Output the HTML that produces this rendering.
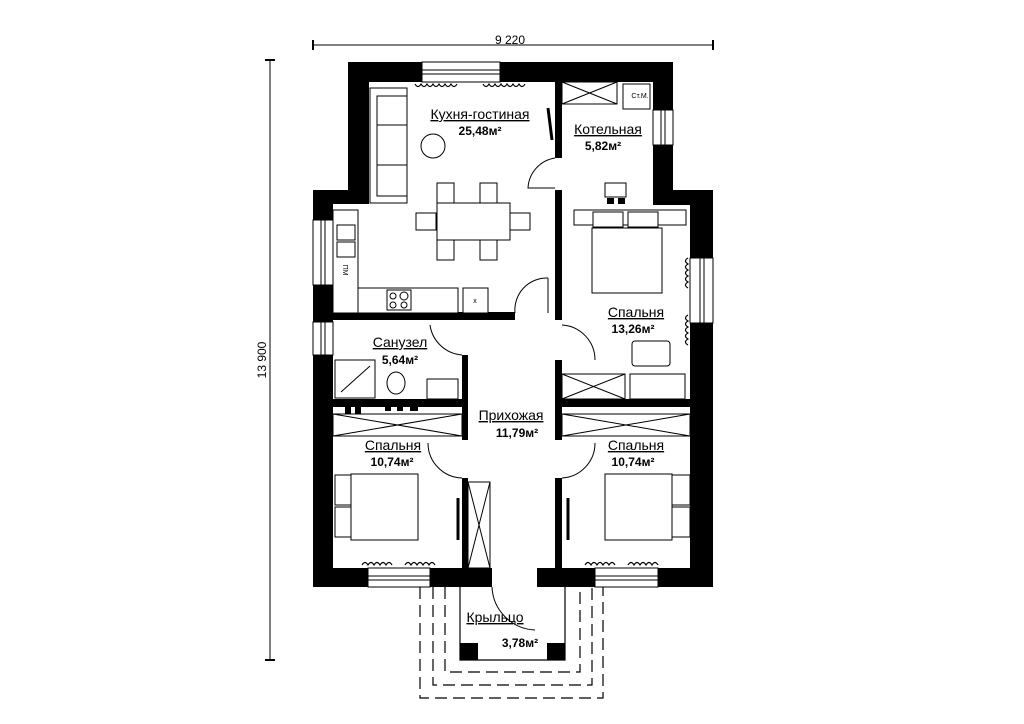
<!DOCTYPE html>
<html><head><meta charset="utf-8"><style>
html,body{margin:0;padding:0;background:#fff;width:1024px;height:724px;overflow:hidden}
svg{display:block}
text{font-family:"Liberation Sans",sans-serif;fill:#000}
</style></head><body>
<svg width="1024" height="724" viewBox="0 0 1024 724" xmlns="http://www.w3.org/2000/svg">
<g stroke="#000" stroke-width="1" fill="none">
 <line x1="313" y1="45" x2="713" y2="45"/>
 <line x1="313" y1="40" x2="313" y2="50" stroke-width="2"/>
 <line x1="713" y1="40" x2="713" y2="50" stroke-width="2"/>
 <line x1="270" y1="60" x2="270" y2="660"/>
 <line x1="265" y1="60" x2="275" y2="60" stroke-width="2"/>
 <line x1="265" y1="660" x2="275" y2="660" stroke-width="2"/>
</g>
<text x="510" y="44" font-size="12" text-anchor="middle">9 220</text>
<text x="0" y="0" font-size="12" text-anchor="middle" transform="translate(266,360) rotate(-90)">13 900</text>

<g fill="#000">
 <rect x="348" y="62" width="325" height="20"/>
 <rect x="348" y="62" width="21" height="142"/>
 <rect x="313" y="190" width="56" height="14"/>
 <rect x="313" y="190" width="20" height="397"/>
 <rect x="653" y="62" width="20" height="143"/>
 <rect x="653" y="190" width="60" height="15"/>
 <rect x="690" y="190" width="23" height="397"/>
 <rect x="313" y="568" width="179" height="19"/>
 <rect x="537" y="568" width="176" height="19"/>
 <rect x="555" y="82" width="7" height="76"/>
 <rect x="555" y="190" width="7" height="130"/>
 <rect x="555" y="360" width="7" height="80"/>
 <rect x="555" y="478" width="7" height="90"/>
 <rect x="333" y="312" width="182" height="8"/>
 <rect x="462" y="355" width="6" height="85"/>
 <rect x="462" y="478" width="6" height="90"/>
 <rect x="333" y="399" width="135" height="8"/>
 <rect x="562" y="399" width="128" height="8"/>
</g>
<g fill="#fff" stroke="#000" stroke-width="1">
 <rect x="422" y="62" width="78" height="20"/>
 <rect x="313" y="220" width="20" height="65"/>
 <rect x="313" y="322" width="20" height="33"/>
 <rect x="653" y="110" width="20" height="35"/>
 <rect x="690" y="258" width="23" height="65"/>
 <rect x="368" y="568" width="62" height="19"/>
 <rect x="595" y="568" width="63" height="19"/>
</g>
<g stroke="#000" stroke-width="1">
 <line x1="422" y1="70" x2="500" y2="70"/><line x1="422" y1="74" x2="500" y2="74"/>
 <line x1="321" y1="220" x2="321" y2="285"/><line x1="325" y1="220" x2="325" y2="285"/>
 <line x1="321" y1="322" x2="321" y2="355"/><line x1="325" y1="322" x2="325" y2="355"/>
 <line x1="661" y1="110" x2="661" y2="145"/><line x1="665" y1="110" x2="665" y2="145"/>
 <line x1="700" y1="258" x2="700" y2="323"/><line x1="704" y1="258" x2="704" y2="323"/>
 <line x1="368" y1="576" x2="430" y2="576"/><line x1="368" y1="580" x2="430" y2="580"/>
 <line x1="595" y1="576" x2="658" y2="576"/><line x1="595" y1="580" x2="658" y2="580"/>
</g>

<g stroke="#000" stroke-width="1" fill="none">
 <path d="M555 158 A32 32 0 0 0 528 188 L555 188"/>
 <path d="M548 278 A32 32 0 0 0 515 313"/><line x1="548" y1="278" x2="548" y2="313"/>
 <path d="M430 325 A35 35 0 0 0 462 355"/>
 <path d="M562 325 A35 35 0 0 1 595 360"/>
 <path d="M428 443 A35 35 0 0 0 462 478"/>
 <path d="M595 443 A35 35 0 0 1 562 478"/>
 <path d="M492 587 A45 45 0 0 0 535 630"/>
 <line x1="548" y1="108" x2="552" y2="140" stroke-width="3"/>
 <line x1="458" y1="498" x2="458" y2="540" stroke-width="3"/>
 <line x1="568" y1="498" x2="568" y2="540" stroke-width="3"/>
</g>

<g stroke="#000" stroke-width="1" fill="#fff">
 <rect x="370" y="88" width="37" height="115"/>
 <rect x="377" y="96" width="30" height="100"/>
 <line x1="377" y1="125" x2="407" y2="125"/><line x1="377" y1="165" x2="407" y2="165"/>
 <circle cx="433" cy="146" r="12"/>
 <rect x="437" y="183" width="17" height="20"/><rect x="480" y="183" width="17" height="20"/>
 <rect x="437" y="240" width="17" height="20"/><rect x="480" y="240" width="17" height="20"/>
 <rect x="416" y="213" width="20" height="17"/><rect x="510" y="213" width="20" height="17"/>
 <rect x="437" y="203" width="73" height="37"/>
 <rect x="333" y="210" width="25" height="103"/>
 <rect x="337" y="225" width="18" height="15"/><rect x="337" y="242" width="18" height="15"/>
 <rect x="358" y="288" width="100" height="25"/>
 <rect x="387" y="290" width="24" height="20"/>
 <circle cx="393" cy="296" r="3"/><circle cx="404" cy="296" r="4"/><circle cx="393" cy="305" r="3"/><circle cx="404" cy="305" r="3"/>
 <rect x="463" y="288" width="25" height="25"/>
 <rect x="562" y="82" width="55" height="22"/>
 <line x1="562" y1="82" x2="617" y2="104"/><line x1="617" y1="82" x2="562" y2="104"/>
 <rect x="623" y="84" width="27" height="25"/>
 <rect x="605" y="183" width="21" height="14"/>
 <rect x="574" y="210" width="112" height="15"/>
 <rect x="593" y="212" width="30" height="15"/><rect x="628" y="212" width="30" height="15"/>
 <rect x="592" y="228" width="70" height="65"/>
 <rect x="632" y="341" width="38" height="25" rx="3"/>
 <rect x="562" y="374" width="63" height="25"/>
 <line x1="562" y1="374" x2="625" y2="399"/><line x1="625" y1="374" x2="562" y2="399"/>
 <rect x="630" y="374" width="55" height="25"/>
 <rect x="335" y="360" width="40" height="38"/>
 <line x1="341" y1="392" x2="370" y2="366"/>
 <ellipse cx="396" cy="383" rx="9" ry="11"/>
 <rect x="427" y="379" width="31" height="20"/>
 <rect x="333" y="414" width="129" height="22"/>
 <line x1="333" y1="414" x2="462" y2="436"/><line x1="462" y1="414" x2="333" y2="436"/>
 <rect x="562" y="414" width="128" height="22"/>
 <line x1="562" y1="414" x2="690" y2="436"/><line x1="690" y1="414" x2="562" y2="436"/>
 <rect x="468" y="482" width="22" height="86"/>
 <line x1="468" y1="482" x2="490" y2="568"/><line x1="490" y1="482" x2="468" y2="568"/>
 <rect x="335" y="475" width="18" height="30"/><rect x="335" y="507" width="18" height="30"/>
 <rect x="351" y="474" width="67" height="66"/>
 <rect x="672" y="475" width="18" height="30"/><rect x="672" y="507" width="18" height="30"/>
 <rect x="605" y="474" width="67" height="66"/>
</g>
<g fill="#000">
 <rect x="345" y="407" width="6" height="7"/><rect x="355" y="407" width="6" height="7"/>
 <rect x="385" y="404" width="6" height="7"/><rect x="397" y="404" width="6" height="7"/><rect x="410" y="404" width="8" height="7"/>
 <rect x="607" y="198" width="7" height="6"/><rect x="618" y="198" width="7" height="6"/>
</g>
<text x="640" y="98" font-size="7" text-anchor="middle">Ст.М.</text>
<text x="343" y="270" font-size="7" transform="rotate(90 343 270)" text-anchor="middle">ПМ</text>
<text x="475" y="303" font-size="7" text-anchor="middle">x</text>
<g stroke="#000" stroke-width="1.2" fill="none">
 <path d="M415 84 q3 5 6 0 q3 5 6 0 q3 5 6 0 q3 5 6 0 q3 5 6 0 q3 5 6 0 q3 5 6 0"/>
 <path d="M483 84 q3 5 6 0 q3 5 6 0 q3 5 6 0 q3 5 6 0 q3 5 6 0 q3 5 6 0 q3 5 6 0"/>
 <path d="M362 565 q3 -5 6 0 q3 -5 6 0 q3 -5 6 0 q3 -5 6 0 q3 -5 6 0"/>
 <path d="M405 565 q3 -5 6 0 q3 -5 6 0 q3 -5 6 0 q3 -5 6 0 q3 -5 6 0"/>
 <path d="M585 565 q3 -5 6 0 q3 -5 6 0 q3 -5 6 0 q3 -5 6 0 q3 -5 6 0"/>
 <path d="M628 565 q3 -5 6 0 q3 -5 6 0 q3 -5 6 0 q3 -5 6 0 q3 -5 6 0"/>
 <path d="M688 258 q-5 3 0 6 q-5 3 0 6 q-5 3 0 6 q-5 3 0 6 q-5 3 0 6"/>
 <path d="M688 315 q-5 3 0 6 q-5 3 0 6 q-5 3 0 6 q-5 3 0 6 q-5 3 0 6"/>
</g>

<g stroke="#000" stroke-width="1.2" fill="none">
 <path d="M460 587 V660 H565 V587"/>
 <path d="M445 587 V672 H580 V587" stroke-dasharray="12 6"/>
 <path d="M433 587 V685 H592 V587" stroke-dasharray="12 6"/>
 <path d="M420 587 V698 H603 V587" stroke-dasharray="12 6"/>
</g>
<rect x="460" y="643" width="18" height="17" fill="#000"/>
<rect x="547" y="643" width="18" height="17" fill="#000"/>

<g font-size="14" text-anchor="middle">
 <text x="480" y="119" text-decoration="underline">Кухня-гостиная</text>
 <text x="608" y="134" text-decoration="underline">Котельная</text>
 <text x="636" y="317" text-decoration="underline">Спальня</text>
 <text x="400" y="347" text-decoration="underline">Санузел</text>
 <text x="511" y="420" text-decoration="underline">Прихожая</text>
 <text x="393" y="450" text-decoration="underline">Спальня</text>
 <text x="636" y="450" text-decoration="underline">Спальня</text>
 <text x="495" y="622" text-decoration="underline">Крыльцо</text>
</g>
<g font-size="12" font-weight="bold" text-anchor="middle">
 <text x="480" y="135">25,48м²</text>
 <text x="603" y="150">5,82м²</text>
 <text x="633" y="333">13,26м²</text>
 <text x="400" y="364">5,64м²</text>
 <text x="517" y="437">11,79м²</text>
 <text x="392" y="466">10,74м²</text>
 <text x="633" y="466">10,74м²</text>
 <text x="520" y="647">3,78м²</text>
</g>
</svg>
</body></html>
